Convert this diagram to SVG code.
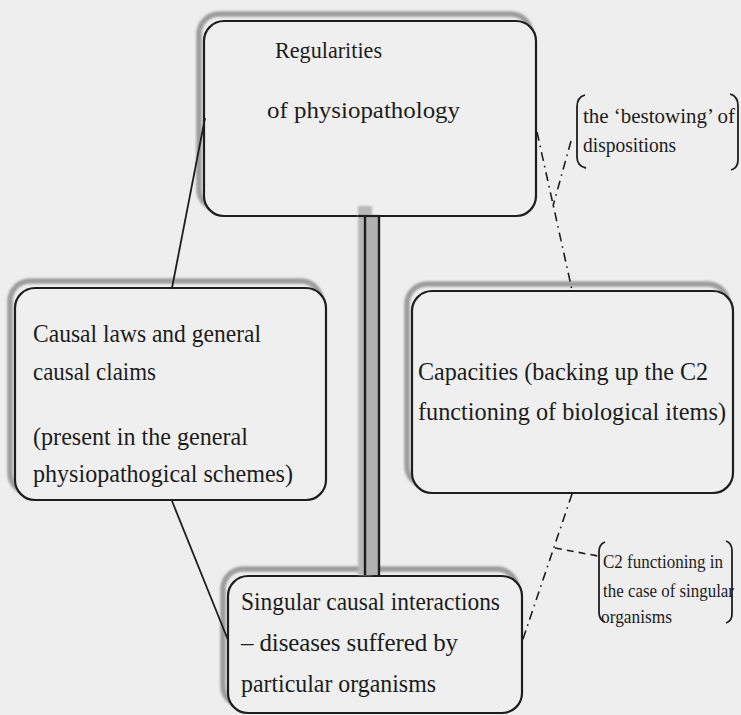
<svg xmlns="http://www.w3.org/2000/svg" width="741" height="715" viewBox="0 0 741 715">
<style>
  .bg { fill: #eeeeee; }
  .box { fill: #efefef; stroke: #1e1e1e; stroke-width: 2.2; }
  .shadow { fill: none; stroke: #9c9c9c; stroke-width: 5.5; filter: url(#blur); }
  .t { fill: #1c1c1c; font-family: "Liberation Serif", "DejaVu Serif", serif; }
  .solid { fill: none; stroke: #1e1e1e; stroke-width: 1.8; }
  .dashdot { fill: none; stroke: #1e1e1e; stroke-width: 1.6; stroke-dasharray: 9 5 1.6 5; }
  .dash { fill: none; stroke: #1e1e1e; stroke-width: 1.6; stroke-dasharray: 7 5; }
  .brk { fill: none; stroke: #1e1e1e; stroke-width: 1.8; }
</style>
<defs>
  <filter id="blur" x="-10%" y="-10%" width="120%" height="120%">
    <feGaussianBlur stdDeviation="1.2"/>
  </filter>
</defs>
<rect class="bg" x="0" y="0" width="741" height="715"/>

<g id="node-regularities">
  <rect class="shadow" x="199" y="14" width="332" height="195" rx="20"/>
  <rect class="box" x="204" y="21" width="332" height="195" rx="20"/>
  <text class="t" x="275" y="58" font-size="23" textLength="107" lengthAdjust="spacingAndGlyphs">Regularities</text>
  <text class="t" x="267" y="118" font-size="23" textLength="193" lengthAdjust="spacingAndGlyphs">of physiopathology</text>
</g>

<g id="node-causal-laws">
  <rect class="shadow" x="10" y="281" width="311" height="212" rx="20"/>
  <rect class="box" x="15" y="288" width="311" height="212" rx="20"/>
  <text class="t" x="33" y="342" font-size="25" textLength="228" lengthAdjust="spacingAndGlyphs">Causal laws and general</text>
  <text class="t" x="33" y="380" font-size="25" textLength="123" lengthAdjust="spacingAndGlyphs">causal claims</text>
  <text class="t" x="33" y="445" font-size="25" textLength="215" lengthAdjust="spacingAndGlyphs">(present in the general</text>
  <text class="t" x="33" y="482" font-size="25" textLength="260" lengthAdjust="spacingAndGlyphs">physiopathogical schemes)</text>
</g>

<g id="node-capacities">
  <rect class="shadow" x="407" y="284" width="321" height="202" rx="20"/>
  <rect class="box" x="412" y="291" width="321" height="202" rx="20"/>
  <text class="t" x="418" y="380" font-size="25" textLength="290" lengthAdjust="spacingAndGlyphs">Capacities (backing up the C2</text>
  <text class="t" x="418" y="420" font-size="25" textLength="308" lengthAdjust="spacingAndGlyphs">functioning of biological items)</text>
</g>

<g id="node-singular">
  <rect class="shadow" x="223" y="569" width="294" height="137" rx="20"/>
  <rect class="box" x="228" y="576" width="294" height="137" rx="20"/>
  <text class="t" x="241" y="610" font-size="25" textLength="259" lengthAdjust="spacingAndGlyphs">Singular causal interactions</text>
  <text class="t" x="241" y="651" font-size="25" textLength="217">– diseases suffered  by</text>
  <text class="t" x="241" y="692" font-size="25" textLength="195" lengthAdjust="spacingAndGlyphs">particular organisms</text>
</g>

<g id="note-bestowing">
  <path class="brk" d="M585,95 Q577,97 577,107 L577,157 Q577,166 586,168"/>
  <path class="brk" d="M730,94 Q738,96 738,106 L738,160 Q738,168 731,170"/>
  <text class="t" x="583" y="123" font-size="21" textLength="152" lengthAdjust="spacingAndGlyphs">the ‘bestowing’ of</text>
  <text class="t" x="583" y="152" font-size="21" textLength="93" lengthAdjust="spacingAndGlyphs">dispositions</text>
</g>

<g id="note-c2">
  <path class="brk" d="M605,542 Q599,544 599,552 L599,612 Q599,620 605,622"/>
  <path class="brk" d="M726,541 Q732,543 732,551 L732,614 Q732,621 726,623"/>
  <text class="t" x="603" y="568" font-size="18" textLength="120" lengthAdjust="spacingAndGlyphs">C2 functioning in</text>
  <text class="t" x="603" y="597" font-size="18" textLength="131" lengthAdjust="spacingAndGlyphs">the case of singular</text>
  <text class="t" x="601" y="623" font-size="18" textLength="71" lengthAdjust="spacingAndGlyphs">organisms</text>
</g>

<g id="connectors">
  <line class="solid" x1="205" y1="118" x2="172" y2="288"/>
  <line class="solid" x1="172" y1="501" x2="228" y2="640"/>
  <g id="bar">
    <rect x="358" y="206" width="14" height="369" fill="#b8b8b8" filter="url(#blur)"/>
    <rect x="365" y="216" width="14" height="359" fill="#b0b0b0"/>
    <line x1="365" y1="216" x2="365" y2="575" stroke="#1e1e1e" stroke-width="2.4"/>
    <line x1="379" y1="216" x2="379" y2="575" stroke="#1e1e1e" stroke-width="2.4"/>
    <line x1="358" y1="216" x2="380" y2="216" stroke="#1e1e1e" stroke-width="2.2"/>
  </g>
  <line class="dashdot" x1="537" y1="132" x2="572" y2="290"/>
  <line class="dashdot" x1="571" y1="141" x2="553" y2="206"/>
  <line class="dashdot" x1="572" y1="494" x2="522" y2="642"/>
  <line class="dash" x1="555" y1="548" x2="598" y2="556"/>
</g>
</svg>
